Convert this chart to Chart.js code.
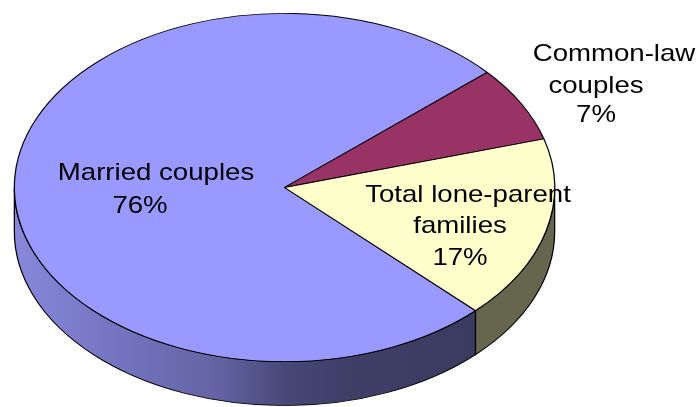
<!DOCTYPE html>
<html>
<head>
<meta charset="utf-8">
<script src="https://cdn.jsdelivr.net/npm/chart.js@4.4.1/dist/chart.umd.min.js"></script>
<style>
  html, body { margin: 0; padding: 0; background: #fff; }
  #wrap { width: 700px; height: 407px; position: relative; }
</style>
</head>
<body>
<div id="wrap"><canvas id="myChart"></canvas></div>
<script>
// data
var categories = ['Married couples', 'Common-law couples', 'Total lone-parent families'];
var values = [76, 7, 17];
var labelLines = [['Married couples'], ['Common-law', 'couples'], ['Total lone-parent', 'families']];
var topColors = ['#9999ff', '#993366', '#ffffcc'];
var sideColors = [null, '#6b3050', '#66664f'];

// 3D look: pie is stretched sideways and given a thickness
var STRETCH = 270 / 174;
var DEPTH = 44;
var TEXT_STRETCH = 1.15;

// where each label line is centred (x) and its baseline (y)
var labelPlaces = [
	[[156, 180], [140, 213]],
	[[614, 61], [596, 93], [596, 122]],
	[[468, 202], [460, 233], [460, 265]]
];

function marriedSide(ctx, cx, R) {
	var g = ctx.createLinearGradient(cx - R, 0, cx + R, 0);
	g.addColorStop(0, '#8888dc');
	g.addColorStop(0.2, '#7373bf');
	g.addColorStop(0.38, '#6363a3');
	g.addColorStop(0.5, '#484878');
	g.addColorStop(0.62, '#3e3e67');
	g.addColorStop(1, '#39395e');
	return g;
}

const pie3d = {
	id: 'pie3d',
	beforeDatasetsDraw(chart) {
		var ctx = chart.ctx;
		var arcs = chart.getDatasetMeta(0).data;
		var cx = arcs[0].x, cy = arcs[0].y, R = arcs[0].outerRadius;
		ctx.save();
		ctx.translate(cx, cy);
		ctx.scale(STRETCH, 1);
		ctx.translate(-cx, -cy);

		// side walls, only the front half (0..PI) shows
		for (var i = 0; i < arcs.length; i++) {
			var s = arcs[i].startAngle, e = arcs[i].endAngle;
			for (var k = -1; k <= 2; k++) {
				var lo = Math.max(s, 2 * Math.PI * k);
				var hi = Math.min(e, 2 * Math.PI * k + Math.PI);
				if (hi <= lo) continue;
				ctx.beginPath();
				ctx.arc(cx, cy, R, lo, hi);
				ctx.arc(cx, cy + DEPTH, R, hi, lo, true);
				ctx.closePath();
				ctx.fillStyle = i === 0 ? marriedSide(ctx, cx, R) : sideColors[i];
				ctx.fill();
				ctx.lineWidth = 0.8;
				ctx.strokeStyle = '#000';
				ctx.stroke();
			}
		}
	},
	afterDatasetsDraw(chart) {
		chart.ctx.restore();
	},
	afterDraw(chart) {
		var ctx = chart.ctx;
		ctx.save();
		ctx.fillStyle = '#000';
		ctx.font = '24px "Liberation Sans", Arial, sans-serif';
		ctx.textAlign = 'center';
		ctx.textBaseline = 'alphabetic';
		for (var i = 0; i < categories.length; i++) {
			var lines = labelLines[i].concat([values[i] + '%']);
			for (var j = 0; j < lines.length; j++) {
				var p = labelPlaces[i][j];
				ctx.save();
				ctx.translate(p[0], p[1]);
				ctx.scale(TEXT_STRETCH, 1);
				ctx.fillText(lines[j], 0, 0);
				ctx.restore();
			}
		}
		ctx.restore();
	}
};

const ctx = document.getElementById('myChart').getContext('2d');
const myChart = new Chart(ctx, {
	type: 'pie',
	data: {
		labels: categories,
		datasets: [{
			data: values,
			backgroundColor: topColors,
			borderColor: '#000',
			borderWidth: 0.8,
			hoverBorderWidth: 0.8,
			hoverOffset: 0,
			offset: 0,
			clip: false
		}]
	},
	options: {
		responsive: true,
		maintainAspectRatio: false,
		animation: false,
		rotation: 135,
		events: [],
		layout: { padding: { top: 13, bottom: 45, left: 110, right: 241 } },
		plugins: {
			legend: { display: false },
			tooltip: { enabled: false }
		}
	},
	plugins: [pie3d]
});
</script>
</body>
</html>
